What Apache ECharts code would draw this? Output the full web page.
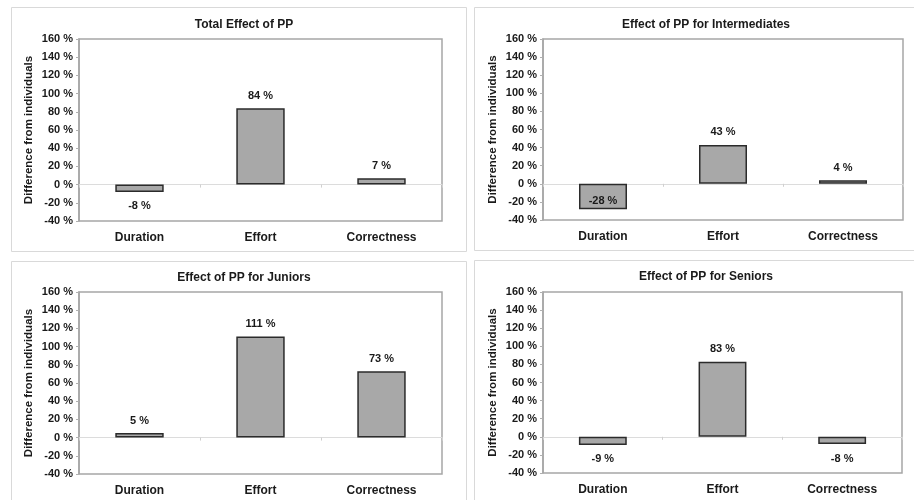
<!DOCTYPE html>
<html>
<head>
<meta charset="utf-8">
<title>Effect of PP</title>
<script src="https://cdn.jsdelivr.net/npm/echarts@6/dist/echarts.min.js"></script>
<style>
  html, body { margin: 0; padding: 0; background: #ffffff; }
  #chart { width: 914px; height: 500px; }
</style>
</head>
<body>
<div id="chart"></div>
<script>
// Categories shared by every panel
const categories = ['Duration', 'Effort', 'Correctness'];

// Difference from individuals, in percent
const totalEffect = [-8, 84, 7];
const intermediates = [-28, 43, 4];
const juniors = [5, 111, 73];
const seniors = [-9, 83, -8];

const panelTitles = [
  'Total Effect of PP',
  'Effect of PP for Intermediates',
  'Effect of PP for Juniors',
  'Effect of PP for Seniors'
];
const panelValues = [totalEffect, intermediates, juniors, seniors];

// Value axis range and tick step
const yMin = -40;
const yMax = 160;
const yStep = 20;
const yAxisName = 'Difference from individuals';

// Panel frames and plot areas (layout only)
const frames = [
  { x: 11, y: 7, w: 455, h: 244 },
  { x: 474, y: 7, w: 460, h: 243 },
  { x: 11, y: 261, w: 455, h: 260 },
  { x: 474, y: 260, w: 460, h: 260 }
];
const grids = [
  { left: 79, top: 39, width: 363, height: 182 },
  { left: 543, top: 39, width: 360, height: 181 },
  { left: 79, top: 292, width: 363, height: 182 },
  { left: 543, top: 292, width: 359, height: 181 }
];
const titlePos = [
  { cx: 239, top: 14 },
  { cx: 701, top: 14 },
  { cx: 239, top: 267 },
  { cx: 701, top: 266 }
];

const FONT = 'Liberation Sans, Arial, sans-serif';
const TEXT = '#1a1a1a';

const option = {
  animation: false,
  backgroundColor: '#ffffff',
  title: [],
  grid: [],
  xAxis: [],
  yAxis: [],
  series: [],
  graphic: []
};

frames.forEach(function (f) {
  option.graphic.push({
    type: 'rect',
    silent: true,
    shape: { x: f.x + 0.5, y: f.y + 0.5, width: f.w, height: f.h },
    style: { fill: 'none', stroke: '#d9d9d9', lineWidth: 1 }
  });
});

panelValues.forEach(function (values, i) {
  const g = grids[i];
  option.title.push({
    text: panelTitles[i],
    left: titlePos[i].cx,
    top: titlePos[i].top,
    textAlign: 'center',
    textStyle: { fontFamily: FONT, fontSize: 12, fontWeight: 'bold', color: TEXT }
  });
  option.grid.push({
    left: g.left, top: g.top, width: g.width, height: g.height,
    show: true, borderColor: '#a6a6a6', borderWidth: 1.5, backgroundColor: '#ffffff'
  });
  // Category labels along the bottom of the plot
  option.xAxis.push({
    type: 'category',
    gridIndex: i,
    data: categories,
    position: 'bottom',
    axisLine: { show: false, onZero: false },
    axisTick: { show: false },
    axisLabel: { margin: 11, fontFamily: FONT, fontSize: 12, fontWeight: 'bold', color: TEXT }
  });
  // Zero line with category separators
  option.xAxis.push({
    type: 'category',
    gridIndex: i,
    data: categories,
    position: 'bottom',
    axisLine: { show: true, onZero: true, lineStyle: { color: '#dcdcdc', width: 1 } },
    axisTick: { show: true, length: 3, lineStyle: { color: '#d0d0d0' } },
    axisLabel: { show: false }
  });
  option.yAxis.push({
    type: 'value',
    gridIndex: i,
    min: yMin,
    max: yMax,
    interval: yStep,
    name: yAxisName,
    nameLocation: 'middle',
    nameGap: 44,
    nameRotate: 90,
    nameTextStyle: { fontFamily: FONT, fontSize: 11.5, fontWeight: 'bold', color: TEXT },
    axisLine: { show: true, lineStyle: { color: '#a6a6a6', width: 1.5 } },
    axisTick: { show: true, length: 3, lineStyle: { color: '#b0b0b0' } },
    splitLine: { show: false },
    axisLabel: {
      margin: 6,
      formatter: '{value} %',
      fontFamily: FONT, fontSize: 11, fontWeight: 'bold', color: TEXT
    }
  });
  option.series.push({
    type: 'bar',
    xAxisIndex: i * 2,
    yAxisIndex: i,
    barWidth: '40%',
    itemStyle: { color: '#a8a8a8', borderColor: '#2b2b2b', borderWidth: 1.5 },
    data: values.map(function (v) {
      // Negative labels sit below the bar, or inside it when the axis leaves no room
      let label = { position: 'top', distance: 7 };
      if (v < 0) {
        label = (v - yMin) < 15
          ? { position: 'insideBottom', distance: 3 }
          : { position: 'bottom', distance: 9 };
      }
      return { value: v, label: label };
    }),
    label: {
      show: true,
      formatter: function (p) { return p.value + ' %'; },
      fontFamily: FONT, fontSize: 11, fontWeight: 'bold', color: TEXT
    }
  });
});

const chart = echarts.init(document.getElementById('chart'), null, { renderer: 'canvas' });
chart.setOption(option);
</script>
</body>
</html>
